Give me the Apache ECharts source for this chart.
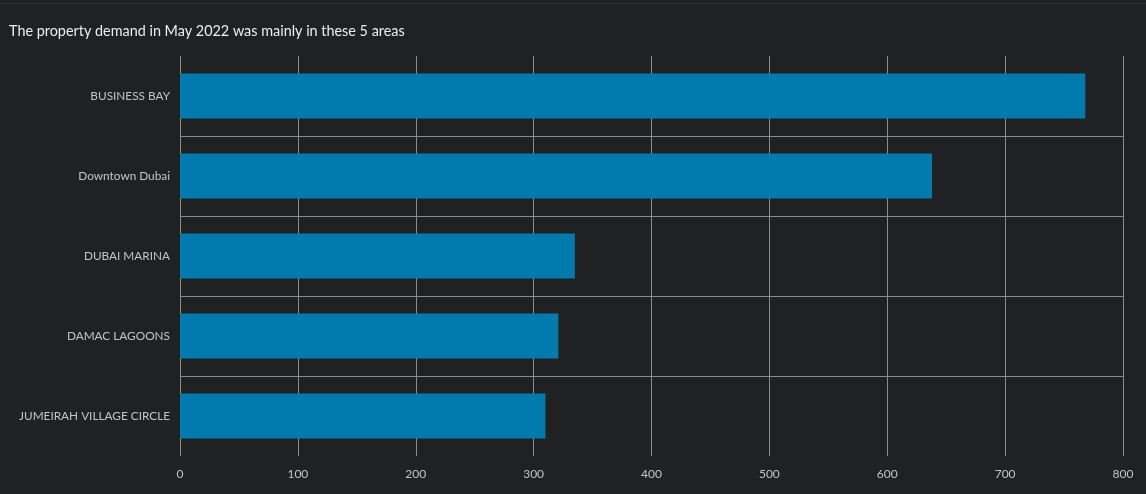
<!DOCTYPE html>
<html>
<head>
<meta charset="utf-8">
<script src="https://cdn.jsdelivr.net/npm/echarts@6/dist/echarts.min.js"></script>
<style>
html,body{margin:0;padding:0;background:#1f2123;}
#c{width:1146px;height:494px;}
</style>
</head>
<body>
<div id="c"></div>
<script>
const titleText = 'The property demand in May 2022 was mainly in these 5 areas';
const categories = ['BUSINESS BAY', 'Downtown Dubai', 'DUBAI MARINA', 'DAMAC LAGOONS', 'JUMEIRAH VILLAGE CIRCLE'];
const values = [768, 638, 335, 321, 310];
const xTicks = [0, 100, 200, 300, 400, 500, 600, 700, 800];

const chart = echarts.init(document.getElementById('c'), null, {renderer: 'canvas'});
chart.setOption({
  backgroundColor: '#1f2123',
  animation: false,
  title: {
    text: titleText,
    left: 4, top: 19,
    textStyle: {color: '#ececec', fontSize: 14.4, fontWeight: 'normal', fontFamily: 'Lato'}
  },
  graphic: [{
    type: 'rect', shape: {x: 0, y: 3, width: 1146, height: 1},
    style: {fill: '#2c2f32'}, silent: true
  }],
  grid: {left: 180, right: 23, top: 56, bottom: 38, containLabel: false},
  xAxis: {
    type: 'value',
    min: xTicks[0], max: xTicks[xTicks.length - 1], interval: 100,
    axisLine: {show: false},
    axisTick: {show: false},
    splitLine: {show: true, lineStyle: {color: '#8c8c8c', width: 1}},
    axisLabel: {color: '#c4c4c4', fontSize: 12, fontFamily: 'Lato', margin: 12}
  },
  yAxis: {
    type: 'category',
    data: categories,
    inverse: true,
    axisLine: {show: false},
    axisTick: {show: false},
    splitLine: {show: true, showMinLine: false, showMaxLine: false, lineStyle: {color: '#8c8c8c', width: 1}},
    axisLabel: {color: '#c4c4c4', fontSize: 11.8, fontFamily: 'Lato', margin: 10}
  },
  series: [{
    type: 'bar',
    data: values,
    barWidth: 45,
    itemStyle: {color: '#017bad'}
  }]
});
</script>
</body>
</html>
